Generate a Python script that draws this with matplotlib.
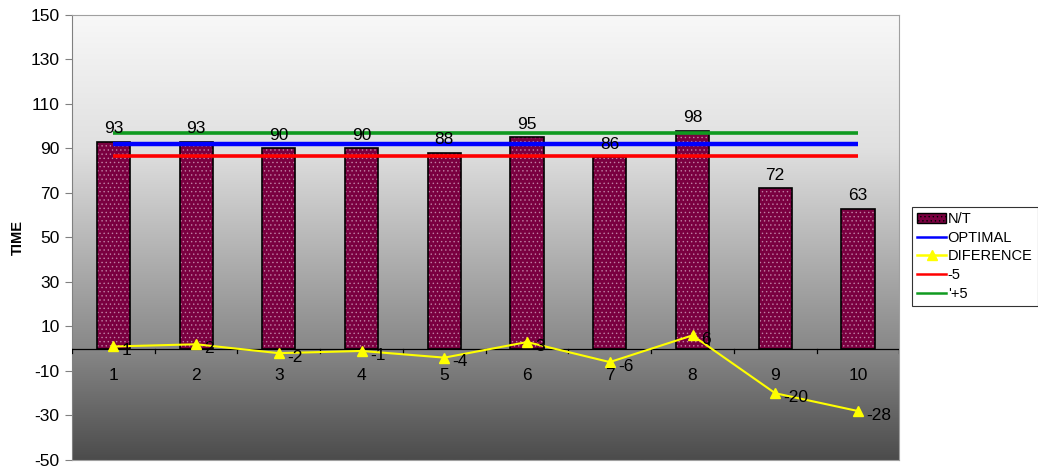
import matplotlib
matplotlib.use("Agg")
import matplotlib.pyplot as plt
import numpy as np
from matplotlib.lines import Line2D
from matplotlib.patches import Patch

plt.rcParams["font.family"] = ["Liberation Sans", "DejaVu Sans"]
plt.rcParams["axes.unicode_minus"] = False
plt.rcParams["hatch.linewidth"] = 0.5

# data
categories = [1, 2, 3, 4, 5, 6, 7, 8, 9, 10]
nt_values = [93, 93, 90, 90, 88, 95, 86, 98, 72, 63]
diference = [1, 2, -2, -1, -4, 3, -6, 6, -20, -28]
optimal = [91.8] * 10
minus5 = [86.8] * 10
plus5 = [96.8] * 10

FS = 12.5
BAR_COLOR = "#7a0040"
DOT_COLOR = "#c080a4"

fig = plt.figure(figsize=(10.38, 4.69), dpi=100)
ax = fig.add_axes([0.0694, 0.0192, 0.797, 0.949])

x = np.array(categories)
ax.set_xlim(0.5, 10.5)
ax.set_ylim(-50, 150)

# vertical grey gradient background
stops_pos = [0.0, 0.3, 0.75, 1.0]
stops_val = [248, 224, 136, 76]
t = np.linspace(0, 1, 256)
g = np.interp(t, stops_pos, stops_val) / 255.0
grad = np.dstack([g, g, g]).reshape(256, 1, 3)
ax.imshow(grad, extent=[0.5, 10.5, -50, 150], aspect="auto", zorder=0,
          interpolation="bilinear")

# bars: dotted maroon fill then black outline
ax.bar(x, nt_values, width=0.4, color=BAR_COLOR, edgecolor=DOT_COLOR,
       hatch="....", linewidth=0, zorder=2)
ax.bar(x, nt_values, width=0.4, fill=False, edgecolor="black",
       linewidth=1.2, zorder=3)
for xi, v in zip(x, nt_values):
    ax.annotate(str(v), (xi, v), xytext=(0, 4), textcoords="offset points",
                ha="center", va="bottom", fontsize=FS, zorder=6)

# reference lines
ax.plot(x, plus5, color="#109a20", lw=2.6, zorder=4, solid_capstyle="butt")
ax.plot(x, optimal, color="#0000ff", lw=3.2, zorder=4, solid_capstyle="butt")
ax.plot(x, minus5, color="#ff0000", lw=2.6, zorder=4, solid_capstyle="butt")

# zero axis line with category ticks
ax.axhline(0, color="black", lw=0.9, zorder=3)
for b in np.arange(0.5, 11, 1.0):
    ax.plot([b, b], [0, -1.8], color="black", lw=0.9, zorder=3)
for xi in x:
    ax.text(xi, -12, str(xi), ha="center", va="center", fontsize=FS, zorder=6)

# difference line
ax.plot(x, diference, color="#ffff00", lw=1.5, marker="^", markersize=6.5,
        markerfacecolor="#ffff00", markeredgecolor="#ffff00", zorder=5)
for xi, v in zip(x, diference):
    ax.annotate(str(v), (xi, v), xytext=(6, -3), textcoords="offset points",
                ha="left", va="center", fontsize=FS, zorder=6)

# axes styling
ax.set_xticks([])
ax.set_yticks(np.arange(-50, 151, 20))
ax.tick_params(axis="y", direction="out", length=5, labelsize=FS, pad=4,
               color="#808080")
for side in ["top", "right", "bottom"]:
    ax.spines[side].set_color("#a0a0a0")
ax.spines["left"].set_color("#808080")
ax.set_ylabel("TIME", fontsize=10.5, fontweight="bold", labelpad=4)

handles = [
    Patch(facecolor=BAR_COLOR, edgecolor="black", hatch="....", label="N/T"),
    Line2D([], [], color="#0000ff", lw=1.8, label="OPTIMAL"),
    Line2D([], [], color="#ffff00", lw=1.8, marker="^", markersize=7,
           label="DIFERENCE"),
    Line2D([], [], color="#ff0000", lw=1.8, label="-5"),
    Line2D([], [], color="#109a20", lw=1.8, label="'+5"),
]
leg = fig.legend(handles=handles, loc="upper left",
                 bbox_to_anchor=(912 / 1038, 1 - 207 / 469), fontsize=10.5,
                 frameon=True, fancybox=False, edgecolor="black",
                 borderpad=0.35, labelspacing=0.32, handlelength=2.0,
                 handletextpad=0.1, borderaxespad=0)
leg.get_frame().set_linewidth(0.8)

fig.savefig("out.png", dpi=100)
